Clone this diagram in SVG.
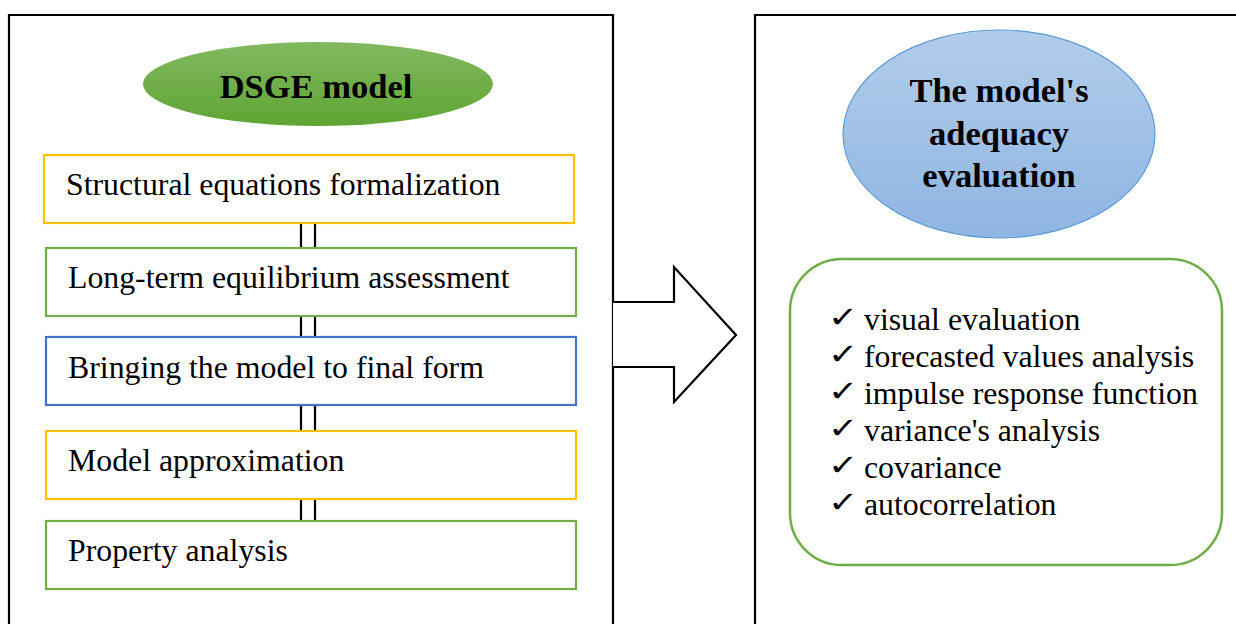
<svg xmlns="http://www.w3.org/2000/svg" width="1236" height="624" viewBox="0 0 1236 624">
<defs>
<linearGradient id="gGreen" x1="0" y1="0" x2="0" y2="1">
<stop offset="0" stop-color="#82b960"/>
<stop offset="1" stop-color="#5fa434"/>
</linearGradient>
<linearGradient id="gBlue" x1="0" y1="0" x2="0" y2="1">
<stop offset="0" stop-color="#b2cdea"/>
<stop offset="1" stop-color="#8fb5e2"/>
</linearGradient>
<style>
.frame{fill:none;stroke:#000;stroke-width:2.2}
.box{fill:#fff;stroke-width:2.2}
.y{stroke:#ffc000}
.g{stroke:#70ad47}
.b{stroke:#4472c4}
.t{font-family:"Liberation Serif","Times New Roman",serif;font-size:31.8px;fill:#000}
.h{font-family:"Liberation Serif","Times New Roman",serif;font-size:34.5px;font-weight:bold;fill:#000;text-anchor:middle}
.li{font-family:"Liberation Serif","Times New Roman",serif;font-size:31.8px;fill:#000}
.ck{font-family:"DejaVu Sans",sans-serif;font-size:29px;font-weight:bold;fill:#000}
.link{stroke:#000;stroke-width:2.2}
</style>
</defs>
<rect width="1236" height="624" fill="#fff"/>
<g id="frame-left"><path class="frame" d="M9 626 V15 H613 V626"/></g>
<g id="frame-right"><path class="frame" d="M755 626 V15 H1240"/></g>
<g id="dsge">
<ellipse cx="318" cy="84" rx="175" ry="42" fill="url(#gGreen)"/>
<text class="h" x="316" y="98">DSGE model</text>
</g>
<g id="connectors">
<line class="link" x1="301" y1="223" x2="301" y2="248"/><line class="link" x1="315" y1="223" x2="315" y2="248"/>
<line class="link" x1="301" y1="316" x2="301" y2="337"/><line class="link" x1="315" y1="316" x2="315" y2="337"/>
<line class="link" x1="301" y1="405" x2="301" y2="431"/><line class="link" x1="315" y1="405" x2="315" y2="431"/>
<line class="link" x1="301" y1="499" x2="301" y2="521"/><line class="link" x1="315" y1="499" x2="315" y2="521"/>
<path id="bigArrow" d="M613 302 H674 V267 L736 335 L674 402 V367 H613" fill="#fff" stroke="#000" stroke-width="2.2" stroke-linejoin="miter"/>
</g>
<g id="step1"><rect class="box y" x="44" y="155" width="530" height="68"/><text class="t" x="66" y="195">Structural equations formalization</text></g>
<g id="step2"><rect class="box g" x="46" y="248" width="530" height="68"/><text class="t" x="68" y="288">Long-term equilibrium assessment</text></g>
<g id="step3"><rect class="box b" x="46" y="337" width="530" height="68"/><text class="t" x="68" y="378">Bringing the model to final form</text></g>
<g id="step4"><rect class="box y" x="46" y="431" width="530" height="68"/><text class="t" x="68" y="471">Model approximation</text></g>
<g id="step5"><rect class="box g" x="46" y="521" width="530" height="68"/><text class="t" x="68" y="561">Property analysis</text></g>
<g id="adequacy">
<ellipse cx="999" cy="134" rx="156" ry="104" fill="url(#gBlue)" stroke="#5b9bd5" stroke-width="1.2"/>
<text class="h" x="999" y="102">The model's</text>
<text class="h" x="999" y="145">adequacy</text>
<text class="h" x="999" y="187">evaluation</text>
</g>
<g id="checklist">
<rect x="790" y="259" width="432" height="306" rx="52" fill="#fff" stroke="#70ad47" stroke-width="2.5"/>
<text class="ck" transform="translate(828,327) scale(1.25,1)">✓</text><text class="li" x="864" y="330">visual evaluation</text>
<text class="ck" transform="translate(828,364) scale(1.25,1)">✓</text><text class="li" x="864" y="367">forecasted values analysis</text>
<text class="ck" transform="translate(828,401) scale(1.25,1)">✓</text><text class="li" x="864" y="404">impulse response function</text>
<text class="ck" transform="translate(828,438) scale(1.25,1)">✓</text><text class="li" x="864" y="441">variance's analysis</text>
<text class="ck" transform="translate(828,475) scale(1.25,1)">✓</text><text class="li" x="864" y="478">covariance</text>
<text class="ck" transform="translate(828,512) scale(1.25,1)">✓</text><text class="li" x="864" y="515">autocorrelation</text>
</g>
</svg>
